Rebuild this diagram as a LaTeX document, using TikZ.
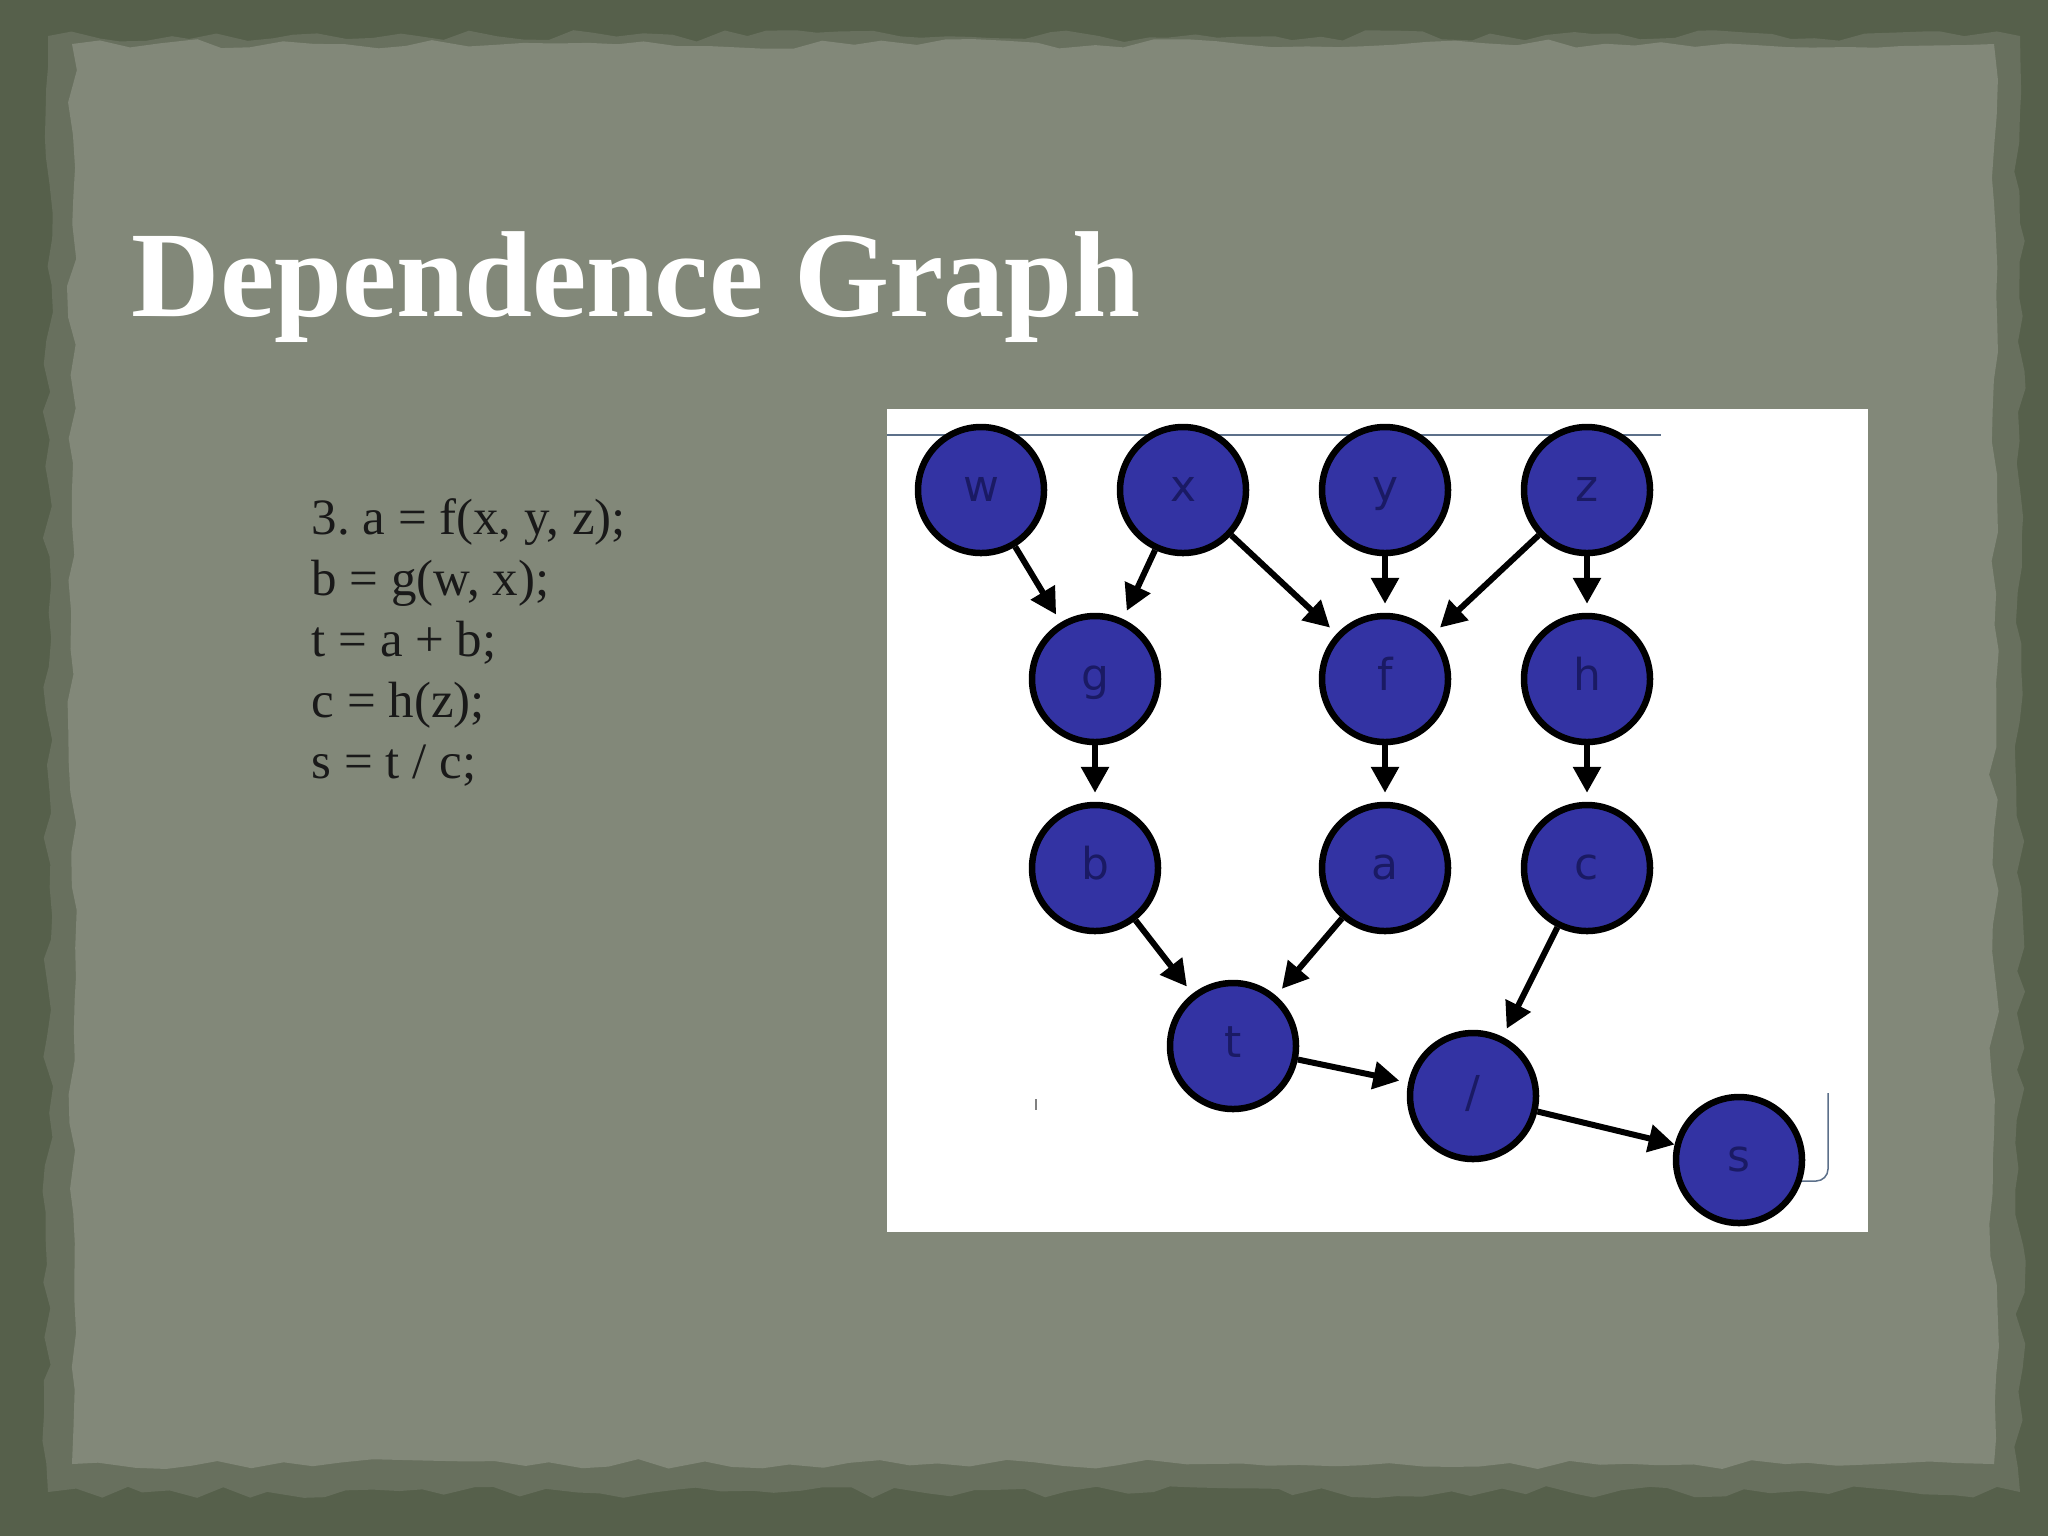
\documentclass[tikz,border=0pt]{standalone}
\usepackage{fontspec}
\usepackage{tikz}
\usetikzlibrary{arrows.meta,decorations.pathmorphing}
\setmainfont{Liberation Serif}
\newfontfamily\graphfont{DejaVu Sans}
\definecolor{frameolive}{RGB}{86,96,75}
\definecolor{tornolive}{RGB}{104,112,94}
\definecolor{paper}{RGB}{130,136,121}
\definecolor{nodeblue}{RGB}{51,51,163}
\definecolor{labelnavy}{RGB}{26,26,100}
\definecolor{rulegray}{RGB}{92,112,138}
\frenchspacing

\begin{document}
\begin{tikzpicture}[x=0.1mm, y=-0.1mm, node distance=1.89cm,
	vtx/.style={circle, draw=black, fill=nodeblue, line width=0.65mm, minimum size=12.6mm, inner sep=0pt, text height=6.8pt, text depth=0pt, text=labelnavy, font=\graphfont\fontsize{12.5}{14}\selectfont},
	edge/.style={-{Triangle[length=2.6mm,width=2.7mm]}, line width=0.6mm, shorten >=0.9mm},
	codeline/.style={anchor=base west, inner sep=0pt, text=black!90, font=\fontsize{14.5}{17}\selectfont}]
	\useasboundingbox (0,0) rectangle (2048,1536);
	\pgfmathsetseed{11}
	% slide background
	\fill[frameolive] (0,0) rectangle (2048,1536);
	\fill[tornolive, decorate, decoration={random steps, segment length=2.5mm, amplitude=0.6mm}] (48,36) rectangle (2020,1492);
	\fill[paper, decorate, decoration={random steps, segment length=3mm, amplitude=0.5mm}] (72,44) rectangle (1994,1464);
	
	\node[anchor=base west, inner sep=0pt, text=white, font=\fontsize{34.8}{40}\selectfont\bfseries] (title) at (131,316) {Dependence Graph};
	
	\node[codeline] (code1) at (311,534) {3. a = f(x, y, z);};
	\node[codeline] (code2) at (311,595) {b = g(w, x);};
	\node[codeline] (code3) at (311,656) {t = a + b;};
	\node[codeline] (code4) at (311,717) {c = h(z);};
	\node[codeline] (code5) at (311,778) {s = t / c;};
	
	% pasted picture
	\fill[white] (887,409) rectangle (1868,1232);
	\draw[rulegray, line width=0.15mm] (887,435) -- (1661,435);
	\draw[rulegray, line width=0.15mm, rounded corners=1.2mm] (1828,1093) -- (1828,1181) -- (1795,1181);
	\draw[gray, line width=0.2mm] (1036,1099) -- (1036,1110);
	
	\node[vtx] (w) at (981,490) {w};
	\node[vtx, node distance=2.02cm, right of=w] (x) {x};
	\node[vtx, node distance=2.02cm, right of=x] (y) {y};
	\node[vtx, node distance=2.02cm, right of=y] (z) {z};
	
	\node[vtx, below of=w, xshift=1.14cm] (g) {g};
	\node[vtx, below of=y] (f) {f};
	\node[vtx, below of=z] (h) {h};
	
	\node[vtx, below of=g] (b) {b};
	\node[vtx, below of=f] (a) {a};
	\node[vtx, below of=h] (c) {c};
	
	\node[vtx, below of=b, xshift=1.38cm, yshift=0.11cm] (t) {t};
	\node[vtx, below of=c, xshift=-1.14cm, yshift=-0.39cm] (div) {/};
	\node[vtx, node distance=2.66cm, right of=div, yshift=-0.64cm] (s) {s};
	
	\draw[edge] (w) -- (g);
	\draw[edge] (x) -- (g);
	\draw[edge] (x) -- (f);
	\draw[edge] (y) -- (f);
	\draw[edge] (z) -- (f);
	\draw[edge] (z) -- (h);
	\draw[edge] (g) -- (b);
	\draw[edge] (f) -- (a);
	\draw[edge] (h) -- (c);
	\draw[edge] (b) -- (t);
	\draw[edge] (a) -- (t);
	\draw[edge] (c) -- (div);
	\draw[edge] (t) -- (div);
	\draw[edge, shorten >=0mm] (div) -- (s);
\end{tikzpicture}
\end{document}
